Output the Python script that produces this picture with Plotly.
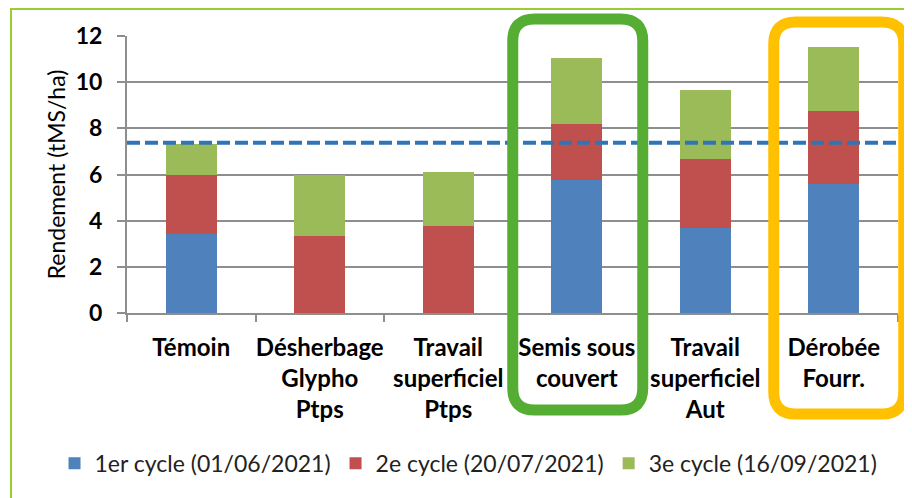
import plotly.graph_objects as go

categories = ["Témoin", "Désherbage<br>Glypho<br>Ptps", "Travail<br>superficiel<br>Ptps",
              "Semis sous<br>couvert", "Travail<br>superficiel<br>Aut", "Dérobée<br>Fourr."]
cycle1 = [3.42, 0, 0, 5.77, 3.70, 5.60]
cycle2 = [2.58, 3.33, 3.79, 2.43, 2.98, 3.15]
cycle3 = [1.33, 2.65, 2.34, 2.85, 3.00, 2.76]
series_names = ["1er cycle (01/06/2021)", "2e cycle (20/07/2021)", "3e cycle (16/09/2021)"]
series_colors = ["#4F81BD", "#C0504D", "#9BBB59"]
threshold = 7.38
y_ticks = [0, 2, 4, 6, 8, 10, 12]

# page body has an 8px margin, so the figure is shrunk/shifted to compensate
W, H = 904, 490
ML, MR, MT, MB = 119, 14, 28, 185

fig = go.Figure()
for name, vals, col in zip(series_names, [cycle1, cycle2, cycle3], series_colors):
    fig.add_trace(go.Bar(x=categories, y=vals, name=name, marker_color=col,
                         marker_line_width=0))

n = len(categories)


def rounded(left, right, top, bottom, r):
    return (f"M{left+r},{top} L{right-r},{top} Q{right},{top} {right},{top-r} "
            f"L{right},{bottom+r} Q{right},{bottom} {right-r},{bottom} "
            f"L{left+r},{bottom} Q{left},{bottom} {left},{bottom+r} "
            f"L{left},{top-r} Q{left},{top} {left+r},{top} Z")


plot_h = H - MT - MB
shapes = [
    # outer chart border (left/top visible)
    dict(type="path", xref="paper", yref="paper", xsizemode="pixel", ysizemode="pixel",
         xanchor=0, yanchor=0, path=rounded(-116, 900, plot_h + 27, -300, 0),
         line=dict(color="#9ACD32", width=2), layer="below"),
    # threshold dashed line
    dict(type="line", xref="paper", yref="y", x0=0, x1=1, y0=threshold, y1=threshold,
         line=dict(color="#2E75B6", width=4, dash="13px,5px"), layer="above"),
    # green highlight
    dict(type="path", xref="paper", yref="paper", xsizemode="pixel", ysizemode="pixel",
         xanchor=(3 + 0.5) / n, yanchor=0, path=rounded(-64, 66, 294, -97, 22),
         line=dict(color="#55AE33", width=11), layer="above"),
    # orange highlight
    dict(type="path", xref="paper", yref="paper", xsizemode="pixel", ysizemode="pixel",
         xanchor=(5 + 0.5) / n, yanchor=0, path=rounded(-60, 70, 291, -101, 22),
         line=dict(color="#FFC000", width=11), layer="above"),
]

fig.update_layout(
    width=W, height=H,
    margin=dict(l=ML, r=MR, t=MT, b=MB, autoexpand=False),
    barmode="stack", bargap=0.6,
    plot_bgcolor="white", paper_bgcolor="white",
    font=dict(family="Lato", color="black"),
    shapes=shapes,
    showlegend=True,
    legend=dict(orientation="h", x=-0.094, xanchor="left", y=-0.543, yanchor="middle",
                font=dict(family="Lato", size=23, color="#222"), traceorder="normal",
                itemwidth=30),
    xaxis=dict(showgrid=False, showline=True, linecolor="#8E8E8E", linewidth=2,
               ticks="outside", tickson="boundaries", ticklen=7, tickcolor="#8E8E8E",
               tickwidth=2, tickangle=0, automargin=False,
               tickfont=dict(family="Lato", size=24, weight="bold", color="black"),
               ticklabelstandoff=12),
    yaxis=dict(range=[0, 12], tickvals=y_ticks, showgrid=True, gridcolor="#8E8E8E",
               gridwidth=2, showline=True, linecolor="#8E8E8E", linewidth=2,
               ticks="outside", ticklen=8, tickcolor="#8E8E8E", tickwidth=2,
               automargin=False,
               tickfont=dict(family="Lato", size=23, weight="bold", color="black"),
               ticklabelstandoff=10, zeroline=False,
               title=dict(text="Rendement (tMS/ha)", standoff=4,
                          font=dict(family="Lato", size=23, color="black"))),
)

fig.write_html("out.html")
